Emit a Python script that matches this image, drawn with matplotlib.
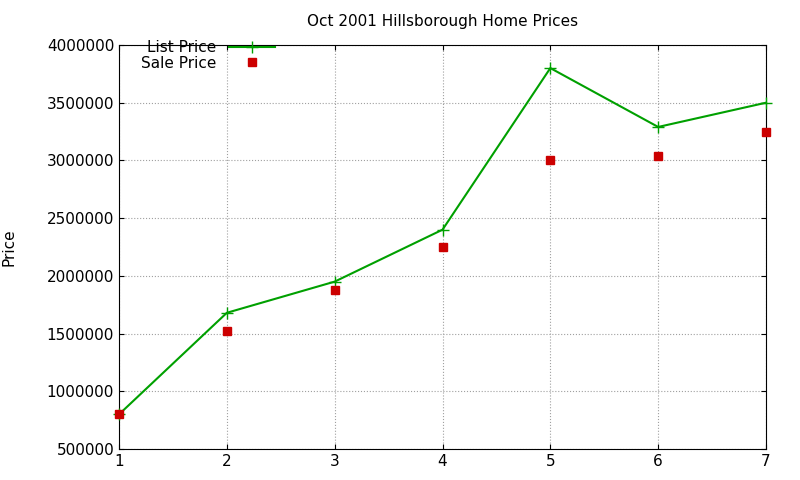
import matplotlib.pyplot as plt

months = [1, 2, 3, 4, 5, 6, 7]
list_price = [800000, 1680000, 1950000, 2400000, 3800000, 3290000, 3500000]
sale_price = [800000, 1520000, 1880000, 2250000, 3000000, 3040000, 3250000]

fig = plt.figure(figsize=(8, 4.8), dpi=100)
ax = fig.add_axes([119/800, 1-449/480, (766-119)/800, (449-45)/480])

ax.plot(months, list_price, color="#00a000", marker="+", markersize=8, lw=1.5,
        label="List Price", clip_on=False, zorder=3)
ax.plot(months, sale_price, color="#cc0000", marker="s", markersize=6, ls="none",
        label="Sale Price", clip_on=False, zorder=3)

ax.set_xlim(1, 7)
ax.set_ylim(500000, 4000000)
ax.set_yticks(range(500000, 4000001, 500000))
ax.ticklabel_format(axis="y", style="plain")
ax.grid(True, color="#a0a0a0", ls=":", lw=0.8)
ax.tick_params(direction="in", labelsize=11, top=True, right=True)
ax.set_ylabel("Price", fontsize=11, labelpad=22)
ax.set_title("Oct 2001 Hillsborough Home Prices", fontsize=11, pad=14)

leg = ax.legend(loc="upper left", bbox_to_anchor=(0.02, 1.035), frameon=False,
                markerfirst=False, fontsize=11, handlelength=3,
                borderpad=0.1, labelspacing=0.05)
for t in leg.get_texts():
    t.set_ha("right")
leg._legend_box.align = "right"

fig.savefig("out.png")
